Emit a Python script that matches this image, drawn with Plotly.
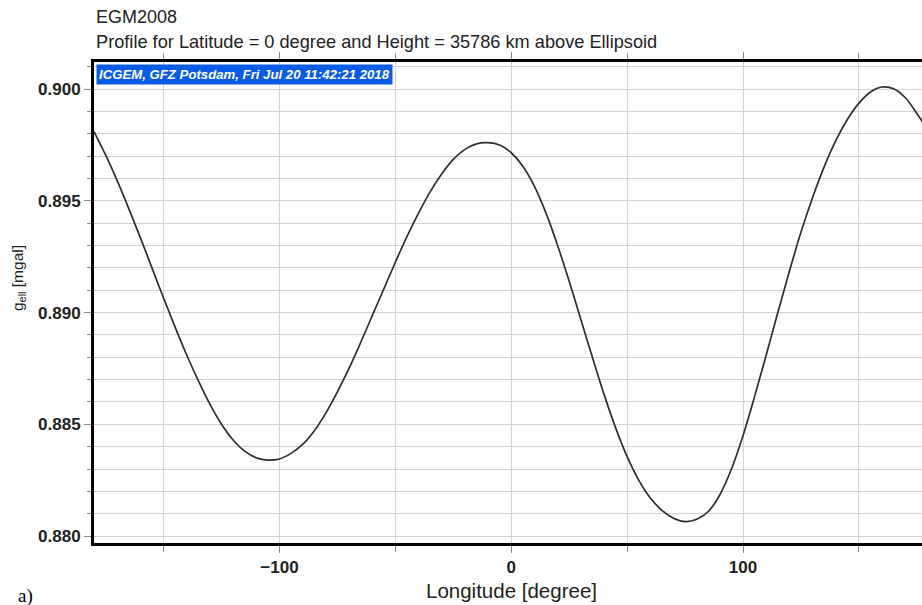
import plotly.graph_objects as go

# Data (longitude in degrees, g_ell in mgal)
longitude = list(range(-180, 181, 5))
g_ell = [0.89810, 0.89705, 0.89590, 0.89465, 0.89335, 0.89200, 0.89065, 0.88935, 0.88810, 0.88695,
         0.88590, 0.88500, 0.88430, 0.88380, 0.88350, 0.88340, 0.88345, 0.88370, 0.88410, 0.88470,
         0.88550, 0.88645, 0.88750, 0.88865, 0.88985, 0.89105, 0.89225, 0.89340, 0.89445, 0.89540,
         0.89620, 0.89685, 0.89730, 0.89755, 0.89760, 0.89750, 0.89715, 0.89655, 0.89565, 0.89445,
         0.89300, 0.89140, 0.88970, 0.88800, 0.88635, 0.88485, 0.88355, 0.88250, 0.88170, 0.88115,
         0.88080, 0.88065, 0.88075, 0.88110, 0.88185, 0.88300, 0.88450, 0.88625, 0.88810, 0.89000,
         0.89185, 0.89360, 0.89515, 0.89652, 0.89769, 0.89864, 0.89937, 0.89987, 0.90009, 0.90001,
         0.89961, 0.89891, 0.89810]

x_ticks = [-100, 0, 100]
y_ticks = [0.880, 0.885, 0.890, 0.895, 0.900]

title1 = "EGM2008"
title2 = "Profile for Latitude = 0 degree and Height = 35786 km above Ellipsoid"
stamp = "ICGEM, GFZ Potsdam, Fri Jul 20 11:42:21 2018"

W, H = 922, 605
L, R, T, B = 94, 0, 62, 62
pw, ph = W - L - R, H - T - B

def px(xp):
    return (xp - L) / pw

def py(yp):
    return (H - B - yp) / ph

font_family = "Liberation Sans, Arial, Helvetica, sans-serif"
grid = "#d2d2d2"
tick_col = "#8a8a8a"

fig = go.Figure()
fig.add_trace(go.Scatter(
    x=longitude, y=g_ell, mode="lines",
    line=dict(color="#2e2e2e", width=1.7, shape="spline", smoothing=1.0),
    hoverinfo="skip", showlegend=False,
))

fig.update_layout(
    width=W, height=H,
    margin=dict(l=L, r=R, t=T, b=B),
    paper_bgcolor="white", plot_bgcolor="white",
    font=dict(family=font_family, color="#222222"),
    xaxis=dict(
        range=[-180, 177.2],
        tickvals=x_ticks,
        ticks="outside", ticklen=7, tickwidth=1, tickcolor=tick_col,
        tickfont=dict(size=17, weight="bold", color="#222222"),
        showgrid=True, gridcolor=grid, gridwidth=1,
        minor=dict(dtick=50, tick0=0, ticks="outside", ticklen=6, tickcolor=tick_col,
                   showgrid=True, gridcolor=grid, gridwidth=1),
        showline=True, linecolor="black", linewidth=3, mirror="ticks",
        zeroline=False,
    ),
    yaxis=dict(
        range=[0.87969, 0.90121],
        tickvals=y_ticks, tickformat=".3f",
        ticks="outside", ticklen=7, tickwidth=1, tickcolor=tick_col,
        tickfont=dict(size=17, weight="bold", color="#222222"),
        showgrid=True, gridcolor=grid, gridwidth=1,
        minor=dict(dtick=0.001, tick0=0.88, ticks="outside", ticklen=4, tickcolor=tick_col,
                   showgrid=True, gridcolor=grid, gridwidth=1),
        showline=True, linecolor="black", linewidth=3, mirror=False,
        zeroline=False,
    ),
)

annotations = [
    dict(text=title1, x=px(94), y=py(17), xanchor="left", yanchor="middle",
         font=dict(size=18, color="#222222")),
    dict(text=title2, x=px(94), y=py(42), xanchor="left", yanchor="middle",
         font=dict(size=18.2, color="#222222")),
    dict(text="<b><i>" + stamp + "</i></b>", x=px(96), y=py(63.5), xanchor="left", yanchor="top",
         font=dict(size=13.2, color="white"), bgcolor="#0a5ce6", borderpad=2),
    dict(text="Longitude [degree]", x=px(511), y=py(590), xanchor="center", yanchor="middle",
         font=dict(size=20.5, color="#222222")),
    dict(text="g<sub>ell</sub> [mgal]", x=px(18), y=py(278), xanchor="center", yanchor="middle",
         textangle=-90, font=dict(size=15.5, color="#222222")),
    dict(text="a)", x=px(16), y=py(596), xanchor="left", yanchor="middle",
         font=dict(size=19, family="Liberation Serif, Times New Roman, serif", color="black")),
]
for a in annotations:
    a.update(xref="paper", yref="paper", showarrow=False)
fig.update_layout(annotations=annotations)

fig.write_html("out.html", config={"displayModeBar": False},
               post_script="document.body.style.margin='0';document.body.style.padding='0';")
